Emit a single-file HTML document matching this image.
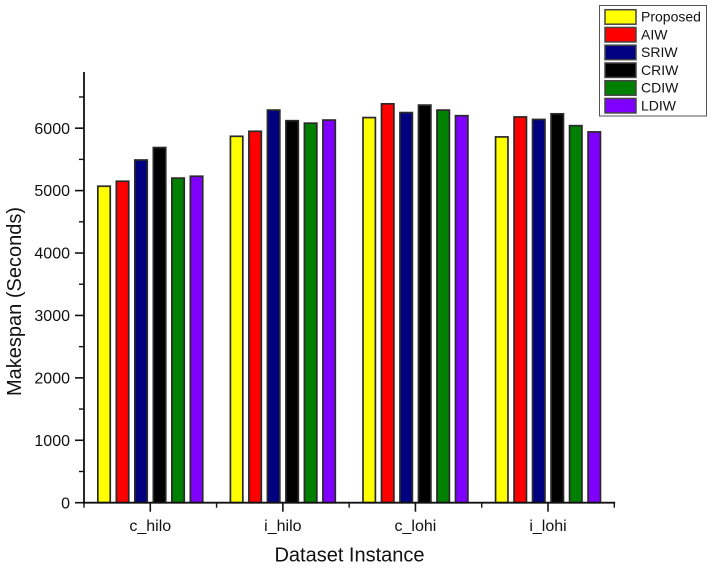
<!DOCTYPE html>
<html>
<head>
<meta charset="utf-8">
<style>
html,body{margin:0;padding:0;background:#fff;width:716px;height:569px;overflow:hidden}
svg{display:block}
text{font-family:"Liberation Sans",Arial,sans-serif;fill:#111}
</style>
</head>
<body>
<svg id="chart" width="716" height="569" viewBox="0 0 716 569" xmlns="http://www.w3.org/2000/svg">
<g id="bars"></g>
<g id="axes"></g>
<text x="0" y="0" font-size="20" text-anchor="middle" transform="translate(21,301.5) rotate(-90)">Makespan (Seconds)</text>
<text x="349.5" y="561.5" font-size="20" text-anchor="middle">Dataset Instance</text>
<g id="legend">
<rect x="599.5" y="5.5" width="107" height="110.5" fill="#fff" stroke="#555" stroke-width="1"/>
</g>
</svg>
<script>
var categories = ["c_hilo", "i_hilo", "c_lohi", "i_lohi"];
var seriesNames = ["Proposed", "AIW", "SRIW", "CRIW", "CDIW", "LDIW"];
var proposedValues = [5070, 5870, 6170, 5860];
var aiwValues = [5150, 5950, 6390, 6180];
var sriwValues = [5490, 6290, 6250, 6140];
var criwValues = [5690, 6120, 6370, 6230];
var cdiwValues = [5200, 6080, 6290, 6040];
var ldiwValues = [5230, 6130, 6200, 5940];
var yTickLabels = [0, 1000, 2000, 3000, 4000, 5000, 6000];
var yMinorTicks = [500, 1500, 2500, 3500, 4500, 5500, 6500];
var yMax = 6900;

var seriesValues = [proposedValues, aiwValues, sriwValues, criwValues, cdiwValues, ldiwValues];
var seriesColors = ["#ffff00", "#ff0000", "#000080", "#000000", "#008000", "#8000ff"];

var NS = "http://www.w3.org/2000/svg";
var plotLeft = 84, plotRight = 614.3, plotBottom = 502.7, plotTop = 72;

function yScale(v) { return plotBottom - (v / yMax) * (plotBottom - plotTop); }
function xBand() { return (plotRight - plotLeft) / categories.length; }
function xCenter(i) { return plotLeft + xBand() * (i + 0.5); }
function make(tag, attrs, parent) {
  var el = document.createElementNS(NS, tag);
  for (var k in attrs) el.setAttribute(k, attrs[k]);
  parent.appendChild(el);
  return el;
}

var barsG = document.getElementById("bars");
var axesG = document.getElementById("axes");
var legendG = document.getElementById("legend");
var barStep = 18.5, barWidth = 12.4;

categories.forEach(function (cat, c) {
  seriesValues.forEach(function (vals, s) {
    var cx = xCenter(c) + (s - (seriesValues.length - 1) / 2) * barStep;
    var top = yScale(vals[c]);
    var bar = make("rect", {x: cx - barWidth / 2, y: top, width: barWidth, height: plotBottom - top, fill: seriesColors[s], stroke: "#2a2a2a", "stroke-width": 1.7}, barsG);
    
    
  });
});

var yAxis = make("line", {x1: plotLeft, x2: plotLeft, y1: plotTop, y2: plotBottom + 1, stroke: "#111", "stroke-width": 1.8}, axesG);


var xAxis = make("line", {x1: plotLeft - 0.9, x2: plotRight + 0.9, y1: plotBottom, y2: plotBottom, stroke: "#111", "stroke-width": 1.8}, axesG);



yTickLabels.forEach(function (v) {
  var y = yScale(v);
  var tick = make("line", {x1: plotLeft - 9, x2: plotLeft, y1: y, y2: y, stroke: "#111", "stroke-width": 1.6}, axesG);
  
  
  var label = make("text", {x: plotLeft - 14, y: y + 5.6, "font-size": 16, "text-anchor": "end"}, axesG);
  label.textContent = String(v);
  
  
});
yMinorTicks.forEach(function (v) {
  var y = yScale(v);
  var tick = make("line", {x1: plotLeft - 5, x2: plotLeft, y1: y, y2: y, stroke: "#111", "stroke-width": 1.4}, axesG);
  
  
});

categories.forEach(function (cat, c) {
  var x = xCenter(c);
  var tick = make("line", {x1: x, x2: x, y1: plotBottom, y2: plotBottom + 9, stroke: "#111", "stroke-width": 1.6}, axesG);
  
  
  var label = make("text", {x: x, y: 531, "font-size": 16, "text-anchor": "middle"}, axesG);
  label.textContent = cat;
  
  
});
for (var b = 0; b <= categories.length; b++) {
  var bx = plotLeft + xBand() * b;
  var minor = make("line", {x1: bx, x2: bx, y1: plotBottom, y2: plotBottom + 5, stroke: "#111", "stroke-width": 1.4}, axesG);
  
  
}

seriesNames.forEach(function (name, s) {
  var rowTop = 9.7 + s * 17.75;
  var swatch = make("rect", {x: 605, y: rowTop, width: 31, height: 14.5, fill: seriesColors[s], stroke: "#444", "stroke-width": 1.5}, legendG);
  
  
  var text = make("text", {x: 641, y: rowTop + 12, "font-size": 14}, legendG);
  text.textContent = name;
  
  
});
</script>
</body>
</html>
